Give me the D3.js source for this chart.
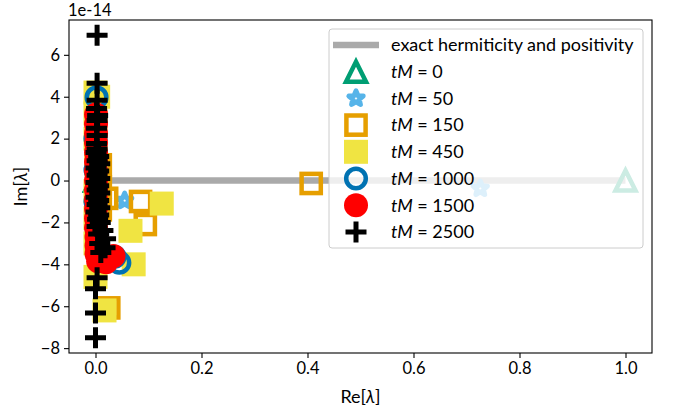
<!DOCTYPE html>
<html>
<head>
<meta charset="utf-8">
<script src="https://cdn.jsdelivr.net/npm/d3@7"></script>
<style>
  body { margin: 0; background: #fff; }
  svg text { font-family: Lato, "DejaVu Sans", sans-serif; fill: #000; }
</style>
</head>
<body>
<div id="mainDiv"></div>
<script>
// eigenvalues [Re, Im], Im in units of 1e-14
const tm0 = [[1.0, 0.0], [0.0, 0.0], [0.0, 0.0]];
const tm50 = [[0.726, -0.38], [0.055, -0.96], [0.003, 1.5], [0.004, 0.4], [0.005, -0.5], [0.002, -2.0]];
const tm150 = [
  [0.407, -0.14], [0.085, -1.0], [0.094, -2.1], [0.025, -6.08],
  [0.009, 0.75], [0.009, -0.3], [0.009, -1.4], [0.021, -0.85],
];
const tm450 = [
  [0.125, -1.1], [0.066, -2.4], [0.072, -4.0], [0.017, -6.2],
  [0.0, 4.2], [0.005, 4.0], [0.0, 3.2], [0.0, 2.0], [0.001, 0.8], [0.0, -0.5],
  [0.0, -1.8], [0.0, -3.0], [0.0, -4.6],
];
const tm1000 = [
  [0.002, 3.97], [0.045, -3.92], [0.036, -3.64],
  [0.0, 2.0], [0.0, 0.5], [0.0, -1.0], [0.003, -2.5],
];
const tm1500 = [
  [0.001, 3.15], [0.001, 2.7], [0.001, 2.25], [0.001, 1.8], [0.001, 1.35],
  [0.001, 0.9], [0.001, 0.45], [0.001, 0.0], [0.001, -0.45], [0.001, -0.9],
  [0.001, -1.35], [0.001, -1.8], [0.001, -2.25], [0.002, -2.7], [0.002, -3.1],
  [0.002, -3.5], [0.034, -3.6], [0.02, -3.9], [0.005, -3.85],
];
const tm2500 = [
  [0.003, 6.94], [0.003, 4.64], [0.003, 3.83], [0.002, 3.44], [0.004, 3.1],
  [0.003, 2.87], [0.002, 2.5], [0.003, 2.15], [0.002, 1.77], [0.003, 1.5],
  [0.001, 1.34], [0.006, 1.15], [0.003, 0.95], [0.008, 0.8], [0.001, 0.6],
  [0.006, 0.45], [0.003, 0.25], [0.008, 0.1], [0.001, -0.1], [0.006, -0.25],
  [0.003, -0.45], [0.008, -0.6], [0.001, -0.8], [0.006, -0.95], [0.003, -1.15],
  [0.008, -1.3], [0.001, -1.5], [0.006, -1.65], [0.004, -1.85], [0.009, -2.0],
  [0.003, -2.2], [0.014, -2.39], [0.006, -2.55], [0.019, -2.78], [0.008, -3.0],
  [0.018, -3.21], [0.01, -3.44],
  [0.003, -4.64], [0.0, -5.17], [0.0, -6.32], [0.0, -7.51],
];
const exactLine = [[0.0, 0.0], [1.0, 0.0]];

const seriesLabels = ["0", "50", "150", "450", "1000", "1500", "2500"];
const seriesData = [tm0, tm50, tm150, tm450, tm1000, tm1500, tm2500];
const seriesMarkers = ["triangle", "star", "square", "filledSquare", "circle", "filledCircle", "plus"];
const seriesColors = ["#009E73", "#56B4E9", "#E69F00", "#F0E442", "#0072B2", "#FF0000", "#000000"];

const xTicks = [0.0, 0.2, 0.4, 0.6, 0.8, 1.0];
const yTicks = [-8, -6, -4, -2, 0, 2, 4, 6];
const lineLabel = "exact hermiticity and positivity";

const chartSize = {
  margin: { top: 20, right: 24, bottom: 63, left: 69 },
  width: 676,
  height: 416,
};
const tickFontSize = 16.5;
const labelFontSize = 18;

function starPath(R) {
  let pts = [];
  for (let i = 0; i < 10; i++) {
    let r = i % 2 === 0 ? R : R * 0.45;
    let a = -Math.PI / 2 + i * Math.PI / 5;
    pts.push([r * Math.cos(a), r * Math.sin(a)]);
  }
  return "M" + pts.map(p => p.join(",")).join("L") + "Z";
}

function drawMarker(g, kind, color) {
  switch (kind) {
    case "triangle":
      g.append("path").attr("d", "M0,-10L10,10L-10,10Z")
        .attr("fill", "none").attr("stroke", color).attr("stroke-width", 4.5);
      break;
    case "star":
      g.append("path").attr("d", starPath(7.5))
        .attr("fill", "none").attr("stroke", color).attr("stroke-width", 5)
        .attr("stroke-linejoin", "round");
      break;
    case "square":
      g.append("rect").attr("x", -9.6).attr("y", -9.6).attr("width", 19.2).attr("height", 19.2)
        .attr("fill", "none").attr("stroke", color).attr("stroke-width", 4.5);
      break;
    case "filledSquare":
      g.append("rect").attr("x", -12).attr("y", -12).attr("width", 24).attr("height", 24)
        .attr("fill", color);
      break;
    case "circle":
      g.append("circle").attr("r", 9.8)
        .attr("fill", "none").attr("stroke", color).attr("stroke-width", 4.5);
      break;
    case "filledCircle":
      g.append("circle").attr("r", 12).attr("fill", color);
      break;
    case "plus":
      g.append("path").attr("d", "M-10.5,0H10.5M0,-10.5V10.5")
        .attr("fill", "none").attr("stroke", color).attr("stroke-width", 5);
      break;
  }
}

function createScales() {
  let allPoints = seriesData.flat();
  let [x0, x1] = d3.extent(allPoints, d => d[0]);
  let [y0, y1] = d3.extent(allPoints, d => d[1]);
  let xPad = (x1 - x0) * 0.05;
  let yPad = (y1 - y0) * 0.05;

  let x = d3.scaleLinear()
    .domain([x0 - xPad, x1 + xPad])
    .range([chartSize.margin.left, chartSize.width - chartSize.margin.right]);

  let y = d3.scaleLinear()
    .domain([y0 - yPad, y1 + yPad])
    .range([chartSize.height - chartSize.margin.bottom, chartSize.margin.top]);

  return { x, y };
}

const svg = d3.select("#mainDiv")
  .append("svg")
  .attr("width", chartSize.width)
  .attr("height", chartSize.height)
  .style("display", "block");

const { x, y } = createScales();
const plotBottom = chartSize.height - chartSize.margin.bottom;
const plotRight = chartSize.width - chartSize.margin.right;

svg.append("defs").append("clipPath").attr("id", "plotClip")
  .append("rect")
  .attr("x", chartSize.margin.left).attr("y", chartSize.margin.top)
  .attr("width", plotRight - chartSize.margin.left)
  .attr("height", plotBottom - chartSize.margin.top);

const plot = svg.append("g").attr("clip-path", "url(#plotClip)");

plot.append("path")
  .attr("d", d3.line().x(d => x(d[0])).y(d => y(d[1]))(exactLine))
  .attr("fill", "none")
  .attr("stroke", "#aaaaaa")
  .attr("stroke-width", 6.5);

seriesData.forEach((data, i) => {
  plot.append("g")
    .selectAll("g")
    .data(data)
    .join("g")
    .attr("transform", d => `translate(${x(d[0])},${y(d[1])})`)
    .each(function () {
      drawMarker(d3.select(this), seriesMarkers[i], seriesColors[i]);
    });
});

// frame
svg.append("rect")
  .attr("x", chartSize.margin.left).attr("y", chartSize.margin.top)
  .attr("width", plotRight - chartSize.margin.left)
  .attr("height", plotBottom - chartSize.margin.top)
  .attr("fill", "none").attr("stroke", "#000").attr("stroke-width", 1.1);

const xAxis = svg.append("g")
  .attr("transform", `translate(0,${plotBottom})`)
  .call(d3.axisBottom(x).tickValues(xTicks).tickFormat(d3.format(".1f"))
    .tickSize(5).tickPadding(4).tickSizeOuter(0));

const yAxis = svg.append("g")
  .attr("transform", `translate(${chartSize.margin.left},0)`)
  .call(d3.axisLeft(y).tickValues(yTicks).tickFormat(d3.format("d"))
    .tickSize(5).tickPadding(4).tickSizeOuter(0));

[xAxis, yAxis].forEach(a => {
  a.select(".domain").remove();
  a.selectAll("line").attr("stroke", "#000").attr("stroke-width", 1.1);
  a.selectAll("text").attr("font-family", "Lato, sans-serif")
    .attr("font-size", tickFontSize).attr("fill", "#000");
});

svg.append("text")
  .attr("x", chartSize.margin.left - 1)
  .attr("y", 15.5)
  .attr("font-size", tickFontSize)
  .text("1e-14");

const xLabel = svg.append("text")
  .attr("x", (chartSize.margin.left + plotRight) / 2)
  .attr("y", 403)
  .attr("text-anchor", "middle")
  .attr("font-size", labelFontSize);
xLabel.append("tspan").text("Re[");
xLabel.append("tspan").attr("font-style", "italic").text("λ");
xLabel.append("tspan").text("]");

const yLabel = svg.append("text")
  .attr("transform", `translate(27,${(chartSize.margin.top + plotBottom) / 2}) rotate(-90)`)
  .attr("text-anchor", "middle")
  .attr("font-size", labelFontSize);
yLabel.append("tspan").text("Im[");
yLabel.append("tspan").attr("font-style", "italic").text("λ");
yLabel.append("tspan").text("]");

// legend
const legend = { x: 329, y: 29, width: 314, height: 219, rowStart: 45, rowStep: 26.7, handleX: 356, textX: 391 };
const lg = svg.append("g");
lg.append("rect")
  .attr("x", legend.x).attr("y", legend.y)
  .attr("width", legend.width).attr("height", legend.height)
  .attr("rx", 3)
  .attr("fill", "#fff").attr("fill-opacity", 0.8)
  .attr("stroke", "#cccccc").attr("stroke-width", 1);

lg.append("line")
  .attr("x1", legend.handleX - 23).attr("x2", legend.handleX + 23)
  .attr("y1", legend.rowStart).attr("y2", legend.rowStart)
  .attr("stroke", "#aaaaaa").attr("stroke-width", 6.5);
lg.append("text")
  .attr("x", legend.textX).attr("y", legend.rowStart)
  .attr("dy", "0.35em").attr("font-size", labelFontSize)
  .text(lineLabel);

seriesLabels.forEach((label, i) => {
  let cy = legend.rowStart + (i + 1) * legend.rowStep;
  let m = lg.append("g").attr("transform", `translate(${legend.handleX},${cy})`);
  drawMarker(m, seriesMarkers[i], seriesColors[i]);
  let t = lg.append("text")
    .attr("x", legend.textX).attr("y", cy)
    .attr("dy", "0.35em").attr("font-size", labelFontSize);
  t.append("tspan").attr("font-style", "italic").text("tM");
  t.append("tspan").text(" = " + label);
});
</script>
</body>
</html>
